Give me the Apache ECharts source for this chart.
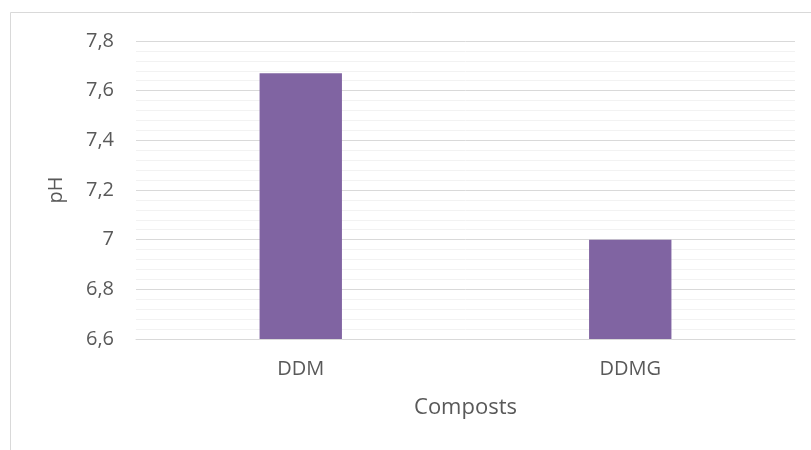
<!DOCTYPE html>
<html>
<head>
<meta charset="utf-8">
<script src="https://cdn.jsdelivr.net/npm/echarts@6/dist/echarts.min.js"></script>
<style>
  html, body { margin: 0; padding: 0; background: #ffffff; }
  #chart { width: 811px; height: 450px; }
</style>
</head>
<body>
<div id="chart"></div>
<script>
// pH of each compost
const categories = ['DDM', 'DDMG'];
const phValues = [7.67, 7.0];
const axisTitleX = 'Composts';
const axisTitleY = 'pH';

const chart = echarts.init(document.getElementById('chart'), null, { renderer: 'canvas' });

const textColor = '#595959';
const fontFamily = '"Open Sans", "Noto Sans", sans-serif';

chart.setOption({
  animation: false,
  backgroundColor: '#ffffff',
  graphic: [{
    type: 'rect',
    shape: { x: 10.5, y: 12.5, width: 820, height: 460 },
    style: { fill: 'none', stroke: '#d9d9d9', lineWidth: 1 },
    silent: true
  }],
  grid: { left: 136, right: 16, top: 41, bottom: 111 },
  xAxis: {
    type: 'category',
    data: categories,
    axisTick: { show: false },
    axisLine: { show: true, lineStyle: { color: '#d9d9d9', width: 1 } },
    axisLabel: { color: textColor, fontSize: 20, fontFamily: fontFamily, margin: 20 },
    name: axisTitleX,
    nameLocation: 'middle',
    nameGap: 58,
    nameTextStyle: { color: textColor, fontSize: 22, fontFamily: fontFamily }
  },
  yAxis: {
    type: 'value',
    min: 6.6,
    max: 7.8,
    interval: 0.2,
    axisLine: { show: false },
    axisTick: { show: false },
    axisLabel: {
      color: textColor, fontSize: 20, fontFamily: fontFamily, margin: 22,
      formatter: v => String(+v.toFixed(1)).replace('.', ',')
    },
    splitLine: { show: true, lineStyle: { color: '#d9d9d9', width: 1 } },
    minorTick: { show: false, splitNumber: 5 },
    minorSplitLine: { show: true, lineStyle: { color: '#f2f2f2', width: 1 } },
    name: axisTitleY,
    nameLocation: 'middle',
    nameGap: 70,
    nameRotate: 90,
    nameTextStyle: { color: textColor, fontSize: 20, fontFamily: fontFamily }
  },
  series: [{
    type: 'bar',
    data: phValues,
    barWidth: '25%',
    itemStyle: { color: '#8064a2' }
  }]
});
</script>
</body>
</html>
